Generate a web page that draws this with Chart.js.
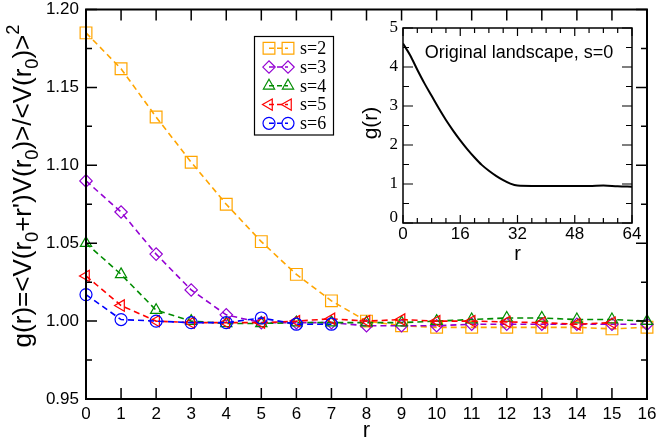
<!DOCTYPE html>
<html>
<head>
<meta charset="utf-8">
<script src="https://cdn.jsdelivr.net/npm/chart.js@4.4.0/dist/chart.umd.min.js"></script>
<style>
  html, body { margin: 0; padding: 0; background: #fff; }
  #wrap { position: relative; width: 657px; height: 441px; }
  #main { position: absolute; left: 0; top: 0; }
  #inset { position: absolute; left: 355px; top: 15px; }
</style>
</head>
<body>
<div id="wrap">
  <canvas id="main" width="657" height="441"></canvas>
  <canvas id="inset" width="295" height="250"></canvas>
</div>
<script>
// main plot data
const rValues = [0, 1, 2, 3, 4, 5, 6, 7, 8, 9, 10, 11, 12, 13, 14, 15, 16];
const s2 = [1.185, 1.162, 1.131, 1.102, 1.075, 1.051, 1.030, 1.013, 1.000, 0.997, 0.996, 0.996, 0.996, 0.996, 0.996, 0.995, 0.996];
const s3 = [1.090, 1.070, 1.043, 1.020, 1.004, 0.999, 0.999, 0.999, 0.997, 0.997, 0.997, 0.998, 0.998, 0.998, 0.998, 0.998, 0.998];
const s4 = [1.050, 1.030, 1.007, 1.000, 0.9985, 0.9985, 0.999, 0.999, 0.999, 0.999, 1.000, 1.001, 1.002, 1.002, 1.001, 1.001, 1.000];
const s5 = [1.029, 1.010, 1.000, 0.999, 0.999, 0.999, 1.000, 1.0015, 1.000, 1.001, 1.000, 1.000, 0.9995, 0.999, 0.998, 0.999];
const s6 = [1.017, 1.001, 1.000, 0.999, 0.999, 1.002, 0.998, 0.998];
const seriesLabels = ['s=2', 's=3', 's=4', 's=5', 's=6'];
const xTicks = [0, 1, 2, 3, 4, 5, 6, 7, 8, 9, 10, 11, 12, 13, 14, 15, 16];
const yTicks = [0.95, 1.00, 1.05, 1.10, 1.15, 1.20];
const yTickLabels = ['0.95', '1.00', '1.05', '1.10', '1.15', '1.20'];

// inset data
const insetR = [0, 2, 4, 6, 8, 10, 12, 14, 16, 18, 20, 22, 24, 26, 28, 30, 32, 36, 40, 44, 48, 52, 56, 60, 64];
const insetG = [4.60, 4.30, 3.93, 3.58, 3.26, 2.94, 2.64, 2.37, 2.12, 1.89, 1.68, 1.49, 1.34, 1.21, 1.10, 1.01, 0.96, 0.95, 0.95, 0.95, 0.95, 0.95, 0.96, 0.94, 0.93];
const insetXTicks = [0, 16, 32, 48, 64];
const insetYTicks = [0, 1, 2, 3, 4, 5];

const SANS = '"Liberation Sans", Arial, sans-serif';
const SERIF = '"Liberation Serif", "Times New Roman", serif';

function pts(vals) {
    return vals.map((v, i) => ({ x: rValues[i], y: v }));
}

const styles = [
    { color: '#ffa500', pointStyle: 'rect', radius: 8.3, rotation: 0 },
    { color: '#9400d3', pointStyle: 'rectRot', radius: 6.2, rotation: 0 },
    { color: '#008c00', pointStyle: 'triangle', radius: 6.5, rotation: 0 },
    { color: '#ff0000', pointStyle: 'triangle', radius: 6.5, rotation: -90 },
    { color: '#0000ff', pointStyle: 'circle', radius: 6, rotation: 0 },
];
const seriesVals = [s2, s3, s4, s5, s6];

const datasets = seriesVals.map((vals, i) => ({
    label: seriesLabels[i],
    data: pts(vals),
    borderColor: styles[i].color,
    borderWidth: 1.6,
    borderDash: [6, 4],
    pointStyle: styles[i].pointStyle,
    pointRadius: styles[i].radius,
    pointRotation: styles[i].rotation,
    pointBorderColor: styles[i].color,
    pointBackgroundColor: 'rgba(0,0,0,0)',
    pointBorderWidth: 1.2,
    fill: false,
    tension: 0,
    clip: false,
    order: 5 - i,
}));

// draws text made of normal / sub / sup pieces, centred on (0,0) of the current transform
function drawRich(ctx, parts, size, family) {
    const fonts = { n: size, sub: size * 0.7, sup: size * 0.7 };
    const shift = { n: 0, sub: size * 0.28, sup: -size * 0.45 };
    let total = 0;
    parts.forEach(p => { ctx.font = fonts[p[1]] + 'px ' + family; total += ctx.measureText(p[0]).width; });
    let x = -total / 2;
    ctx.textAlign = 'left';
    ctx.textBaseline = 'alphabetic';
    parts.forEach(p => {
        ctx.font = fonts[p[1]] + 'px ' + family;
        ctx.fillText(p[0], x, shift[p[1]]);
        x += ctx.measureText(p[0]).width;
    });
}

const mainAxes = {
    id: 'mainAxes',
    afterDatasetsDraw(chart) {
        const { ctx, chartArea: a, scales: { x, y } } = chart;
        ctx.save();
        ctx.strokeStyle = '#000';
        ctx.lineWidth = 1.5;
        ctx.beginPath();
        xTicks.forEach(v => {
            const px = x.getPixelForValue(v);
            ctx.moveTo(px, a.bottom); ctx.lineTo(px, a.bottom - 11);
            ctx.moveTo(px, a.top); ctx.lineTo(px, a.top + 11);
        });
        yTicks.forEach((v, i) => {
            const py = y.getPixelForValue(v);
            ctx.moveTo(a.left, py); ctx.lineTo(a.left + 11, py);
            ctx.moveTo(a.right, py); ctx.lineTo(a.right - 11, py);
            if (i < yTicks.length - 1) {
                const pm = y.getPixelForValue((v + yTicks[i + 1]) / 2);
                ctx.moveTo(a.left, pm); ctx.lineTo(a.left + 6, pm);
                ctx.moveTo(a.right, pm); ctx.lineTo(a.right - 6, pm);
            }
        });
        ctx.stroke();
        ctx.lineWidth = 2;
        ctx.strokeRect(a.left, a.top, a.right - a.left, a.bottom - a.top);

        // tick labels
        ctx.fillStyle = '#000';
        ctx.font = '17px ' + SANS;
        ctx.textAlign = 'center';
        ctx.textBaseline = 'middle';
        xTicks.forEach(v => ctx.fillText(String(v), x.getPixelForValue(v), 414));
        ctx.textAlign = 'right';
        yTicks.forEach((v, i) => ctx.fillText(yTickLabels[i], 79, y.getPixelForValue(v)));

        // axis titles
        ctx.font = '22px ' + SANS;
        ctx.textAlign = 'center';
        ctx.fillText('r', x.getPixelForValue(8), 431);
        ctx.save();
        ctx.translate(31, 186);
        ctx.rotate(-Math.PI / 2);
        drawRich(ctx, [['g(r)=<V(r', 'n'], ['0', 'sub'], ['+r\')V(r', 'n'], ['0', 'sub'],
            [')>/<V(r', 'n'], ['0', 'sub'], [')>', 'n'], ['2', 'sup']], 26, SANS);
        ctx.restore();

        // legend
        const bx = 254.5, by = 36.5, bw = 79, bh = 98.5;
        ctx.fillStyle = '#fff';
        ctx.fillRect(bx, by, bw, bh);
        ctx.lineWidth = 1.2;
        ctx.strokeStyle = '#000';
        ctx.strokeRect(bx, by, bw, bh);
        chart.data.datasets.forEach((ds, i) => {
            const ry = 48.3 + i * 18.75;
            const x1 = 269, x2 = 288;
            ctx.save();
            ctx.strokeStyle = ds.borderColor;
            ctx.lineWidth = ds.borderWidth;
            ctx.setLineDash([5, 3]);
            ctx.beginPath();
            ctx.moveTo(x1, ry); ctx.lineTo(x2, ry);
            ctx.stroke();
            ctx.setLineDash([]);
            ctx.fillStyle = 'rgba(0,0,0,0)';
            ctx.lineWidth = ds.pointBorderWidth;
            [x1, x2].forEach(px => Chart.helpers.drawPoint(ctx, {
                pointStyle: ds.pointStyle, rotation: ds.pointRotation,
                radius: ds.pointRadius, borderWidth: ds.pointBorderWidth
            }, px, ry));
            ctx.restore();
            ctx.fillStyle = '#000';
            ctx.font = '18px ' + SERIF;
            ctx.textAlign = 'left';
            ctx.textBaseline = 'middle';
            ctx.fillText(ds.label, 300, ry + 1);
        });
        ctx.restore();
    }
};

new Chart(document.getElementById('main'), {
    type: 'line',
    data: { datasets: datasets },
    options: {
        responsive: false,
        animation: false,
        devicePixelRatio: 1,
        layout: { padding: { left: 86, right: 10, top: 8, bottom: 42 } },
        scales: {
            x: { type: 'linear', min: 0, max: 16, display: false },
            y: { type: 'linear', min: 0.95, max: 1.2, display: false },
        },
        plugins: { legend: { display: false }, tooltip: { enabled: false } },
    },
    plugins: [mainAxes],
});

const insetAxes = {
    id: 'insetAxes',
    beforeDatasetsDraw(chart) {
        const { ctx, chartArea: a } = chart;
        ctx.save();
        ctx.fillStyle = '#fff';
        ctx.fillRect(a.left, a.top, a.right - a.left, a.bottom - a.top);
        ctx.restore();
    },
    afterDatasetsDraw(chart) {
        const { ctx, chartArea: a, scales: { x, y } } = chart;
        ctx.save();
        ctx.strokeStyle = '#000';
        ctx.lineWidth = 1.2;
        ctx.beginPath();
        for (let v = 0; v <= 64; v += 4) {
            const px = x.getPixelForValue(v);
            const len = insetXTicks.includes(v) ? 8 : 5;
            ctx.moveTo(px, a.bottom); ctx.lineTo(px, a.bottom - len);
            ctx.moveTo(px, a.top); ctx.lineTo(px, a.top + len);
        }
        for (let v = 0; v <= 5; v += 0.5) {
            const py = y.getPixelForValue(v);
            const len = insetYTicks.includes(v) ? 10 : 6;
            ctx.moveTo(a.left, py); ctx.lineTo(a.left + len, py);
            ctx.moveTo(a.right, py); ctx.lineTo(a.right - len, py);
        }
        ctx.stroke();
        ctx.lineWidth = 1.5;
        ctx.strokeRect(a.left, a.top, a.right - a.left, a.bottom - a.top);

        ctx.fillStyle = '#000';
        ctx.font = '17px ' + SANS;
        ctx.textAlign = 'center';
        ctx.textBaseline = 'middle';
        insetXTicks.forEach(v => ctx.fillText(String(v), x.getPixelForValue(v), a.bottom + 11));
        ctx.font = '20px ' + SANS;
        ctx.fillText('r', x.getPixelForValue(32), a.bottom + 31);
        ctx.font = '17px ' + SERIF;
        ctx.textAlign = 'right';
        insetYTicks.forEach(v => ctx.fillText(String(v), a.left - 5, y.getPixelForValue(v) - (v === 0 ? 5 : 0)));

        ctx.font = '18px ' + SANS;
        ctx.textAlign = 'center';
        ctx.fillText('Original landscape, s=0', 164, 38);

        ctx.save();
        ctx.translate(16, 108);
        ctx.rotate(-Math.PI / 2);
        ctx.font = '21px ' + SANS;
        ctx.textBaseline = 'middle';
        ctx.fillText('g(r)', 0, 0);
        ctx.restore();
        ctx.restore();
    }
};

new Chart(document.getElementById('inset'), {
    type: 'line',
    data: {
        datasets: [{
            data: insetR.map((r, i) => ({ x: r, y: insetG[i] })),
            borderColor: '#000',
            borderWidth: 2,
            pointRadius: 0,
            fill: false,
            cubicInterpolationMode: 'monotone',
        }]
    },
    options: {
        responsive: false,
        animation: false,
        devicePixelRatio: 1,
        layout: { padding: { left: 48, right: 18, top: 13, bottom: 42 } },
        scales: {
            x: { type: 'linear', min: 0, max: 64, display: false },
            y: { type: 'linear', min: 0, max: 5, display: false },
        },
        plugins: { legend: { display: false }, tooltip: { enabled: false } },
    },
    plugins: [insetAxes],
});
</script>
</body>
</html>
